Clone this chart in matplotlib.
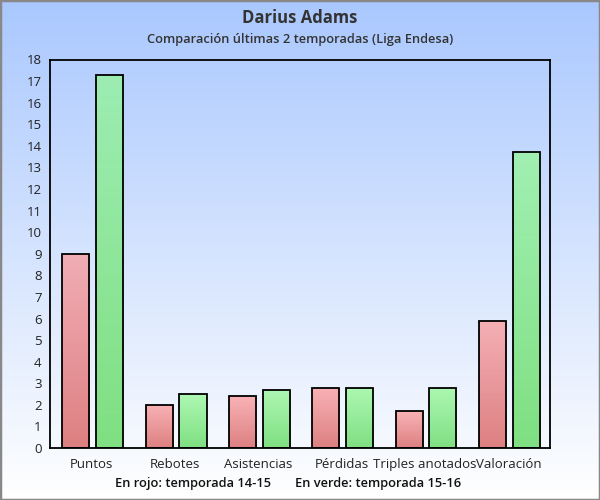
import numpy as np
import matplotlib
matplotlib.use("Agg")
import matplotlib.pyplot as plt
from matplotlib.colors import LinearSegmentedColormap
from matplotlib.patches import Rectangle

plt.rcParams['font.family'] = ['Open Sans', 'DejaVu Sans']

categorias = ['Puntos', 'Rebotes', 'Asistencias', 'Pérdidas', 'Triples anotados', 'Valoración']
temp_14_15 = [9.0, 2.0, 2.4, 2.8, 1.7, 5.9]
temp_15_16 = [17.3, 2.5, 2.7, 2.8, 2.8, 13.7]
yticks = list(range(0, 19))

fig = plt.figure(figsize=(6, 5), dpi=100)

# fondo degradado azul -> blanco
bg = fig.add_axes([0, 0, 1, 1], zorder=-10)
grad = np.linspace(0, 1, 256).reshape(-1, 1)
bg_cmap = LinearSegmentedColormap.from_list('bg', ['#aac8fe', '#ffffff'])
bg.imshow(grad, cmap=bg_cmap, aspect='auto', extent=[0, 1, 0, 1], origin='upper')
bg.set_xlim(0, 1)
bg.set_ylim(0, 1)
bg.axis('off')
fig.patches.append(Rectangle((0, 0), 1, 1, transform=fig.transFigure, fill=False,
                             edgecolor='#888888', linewidth=2.5, zorder=10))

ax = fig.add_axes([50 / 600, 52 / 500, 500 / 600, 388.5 / 500])
ax.patch.set_alpha(0)

x = np.arange(len(categorias))
w = 0.326
red_cmap = LinearSegmentedColormap.from_list('r', ['#d34c4c', '#fe9696'])
green_cmap = LinearSegmentedColormap.from_list('g', ['#4cd54c', '#92fa92'])

def gradient_bars(xs, vals, cmap):
    bars = ax.bar(xs, vals, width=w, facecolor='none', edgecolor='black', linewidth=1.3, zorder=3)
    for b in bars:
        x0, y0 = b.get_x(), b.get_y()
        im = ax.imshow(np.linspace(0, 1, 100).reshape(-1, 1), cmap=cmap, aspect='auto',
                       origin='lower', alpha=0.7,
                       extent=[x0, x0 + b.get_width(), y0, y0 + b.get_height()], zorder=2)
        im.set_clip_path(b)
    return bars

gradient_bars(x - 0.19, temp_14_15, red_cmap)
gradient_bars(x + 0.215, temp_15_16, green_cmap)

ax.set_xlim(-0.5, len(categorias) - 0.5)
ax.set_ylim(0, 18)
ax.set_yticks(yticks)
ax.set_xticks(x)
ax.set_xticklabels(categorias)
ax.tick_params(axis='both', length=0, labelsize=9.5, colors='#222222')
ax.tick_params(axis='y', pad=6)
ax.tick_params(axis='x', pad=7)
for s in ax.spines.values():
    s.set_linewidth(1.3)
    s.set_color('black')

fig.text(0.5, 1 - 18 / 500, 'Darius Adams', ha='center', va='center',
         fontsize=12, fontweight='bold', color='#333333')
fig.text(0.5, 1 - 40 / 500, 'Comparación últimas 2 temporadas (Liga Endesa)', ha='center',
         va='center', fontsize=9.3, fontweight='semibold', color='#333333')
fig.text(193 / 600, 1 - 483 / 500, 'En rojo: temporada 14-15', ha='center', va='center',
         fontsize=9.3, fontweight='semibold', color='#111111')
fig.text(378 / 600, 1 - 483 / 500, 'En verde: temporada 15-16', ha='center', va='center',
         fontsize=9.3, fontweight='semibold', color='#111111')

fig.savefig('out.png', dpi=100)
